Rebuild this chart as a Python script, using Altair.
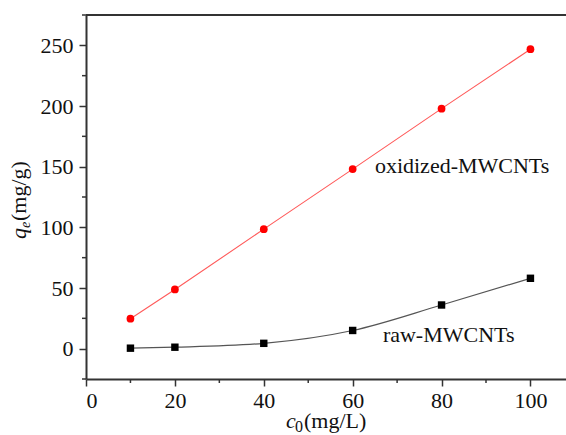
import altair as alt
import pandas as pd

# ---- data ----
c0 = [10, 20, 40, 60, 80, 100]
qe_oxidized = [24.7, 48.8, 98.5, 148.0, 197.8, 246.8]
qe_raw = [0.4, 1.2, 4.4, 15.0, 36.0, 58.0]

x_ticks = [0, 20, 40, 60, 80, 100]
x_minor = [10, 30, 50, 70, 90]
y_ticks = [0, 50, 100, 150, 200, 250]
y_minor = [-25, 25, 75, 125, 175, 225, 275]

label_text = ["oxidized-MWCNTs", "raw-MWCNTs"]
label_x = [65.0, 66.8]
label_y = [150.8, 11.3]

FONT = "Liberation Serif"
AX = "#333333"
W, H = 480, 364

ox = pd.DataFrame({"c0": c0, "qe": qe_oxidized})
raw = pd.DataFrame({"c0": c0, "qe": qe_raw})
labels = pd.DataFrame({"x": label_x, "y": label_y, "t": label_text})
xm = pd.DataFrame({"v": x_minor})
ym = pd.DataFrame({"v": y_minor})
one = pd.DataFrame({"a": [0]})

xs = alt.Scale(domain=[0, 108], nice=False, zero=False)
ys = alt.Scale(domain=[-25, 275], nice=False, zero=False)

xax = alt.Axis(values=x_ticks, tickSize=7, labelPadding=4, title=None, format="d",
               labelFont=FONT, labelFontSize=22, labelColor="#111111")
yax = alt.Axis(values=y_ticks, tickSize=7, labelPadding=6, title=None, format="d",
               labelFont=FONT, labelFontSize=22, labelColor="#111111")

base_ox = alt.Chart(ox).encode(
    x=alt.X("c0:Q", scale=xs, axis=xax),
    y=alt.Y("qe:Q", scale=ys, axis=yax),
)
ox_line = base_ox.mark_line(color="#ff5a5a", strokeWidth=1.1)
ox_pts = base_ox.mark_point(shape="circle", filled=True, color="#ff0000", size=60, opacity=1)

base_raw = alt.Chart(raw).encode(
    x=alt.X("c0:Q", scale=xs, axis=xax),
    y=alt.Y("qe:Q", scale=ys, axis=yax),
)
raw_line = base_raw.mark_line(color="#555555", strokeWidth=1.2, interpolate="monotone")
raw_pts = base_raw.mark_point(shape="square", filled=True, color="#000000", size=55, opacity=1)

txt = alt.Chart(labels).mark_text(
    font=FONT, fontSize=22, align="left", baseline="middle", color="#111111"
).encode(x=alt.X("x:Q", scale=xs, axis=xax), y=alt.Y("y:Q", scale=ys, axis=yax), text="t:N")

xminor = alt.Chart(xm).mark_rule(color=AX, strokeWidth=1.5).encode(
    x=alt.X("v:Q", scale=xs, axis=xax), y=alt.value(H), y2=alt.value(H + 4)
)
yminor = alt.Chart(ym).mark_rule(color=AX, strokeWidth=1.5).encode(
    y=alt.Y("v:Q", scale=ys, axis=yax), x=alt.value(-4), x2=alt.value(0)
)
top_border = alt.Chart(one).mark_rule(color=AX, strokeWidth=2).encode(
    x=alt.value(0), x2=alt.value(W), y=alt.value(0)
)

# axis titles with sub-scripts, built from text pieces
yt_q = alt.Chart(one).mark_text(text="q", font=FONT, fontSize=22, fontStyle="italic",
                                angle=270, align="left", baseline="alphabetic", color="#111111"
                                ).encode(x=alt.value(-60), y=alt.value(224))
yt_e = alt.Chart(one).mark_text(text="e", font=FONT, fontSize=14, fontStyle="italic",
                                angle=270, align="left", baseline="alphabetic", color="#111111"
                                ).encode(x=alt.value(-56), y=alt.value(213))
yt_u = alt.Chart(one).mark_text(text="(mg/g)", font=FONT, fontSize=22,
                                angle=270, align="left", baseline="alphabetic", color="#111111"
                                ).encode(x=alt.value(-60), y=alt.value(206))

xt_c = alt.Chart(one).mark_text(text="c", font=FONT, fontSize=22, fontStyle="italic",
                                align="left", baseline="alphabetic", color="#111111"
                                ).encode(x=alt.value(200), y=alt.value(413))
xt_0 = alt.Chart(one).mark_text(text="0", font=FONT, fontSize=16,
                                align="left", baseline="alphabetic", color="#111111"
                                ).encode(x=alt.value(209), y=alt.value(417))
xt_u = alt.Chart(one).mark_text(text="(mg/L)", font=FONT, fontSize=22,
                                align="left", baseline="alphabetic", color="#111111"
                                ).encode(x=alt.value(218), y=alt.value(413))

chart = alt.layer(
    ox_line, raw_line, ox_pts, raw_pts, txt, xminor, yminor, top_border,
    yt_q, yt_e, yt_u, xt_c, xt_0, xt_u,
).properties(
    width=W, height=H,
    autosize=alt.AutoSizeParams(type="none"),
    padding={"left": 86, "top": 15, "right": 0, "bottom": 56},
    background="white",
).configure_view(
    stroke=None
).configure_axis(
    grid=False,
    domainColor=AX, domainWidth=2,
    tickColor=AX, tickWidth=1.5,
    labelFont=FONT, labelFontSize=22, labelColor="#111111",
)

chart.save("out.html", embed_options={"renderer": "svg", "actions": False})
